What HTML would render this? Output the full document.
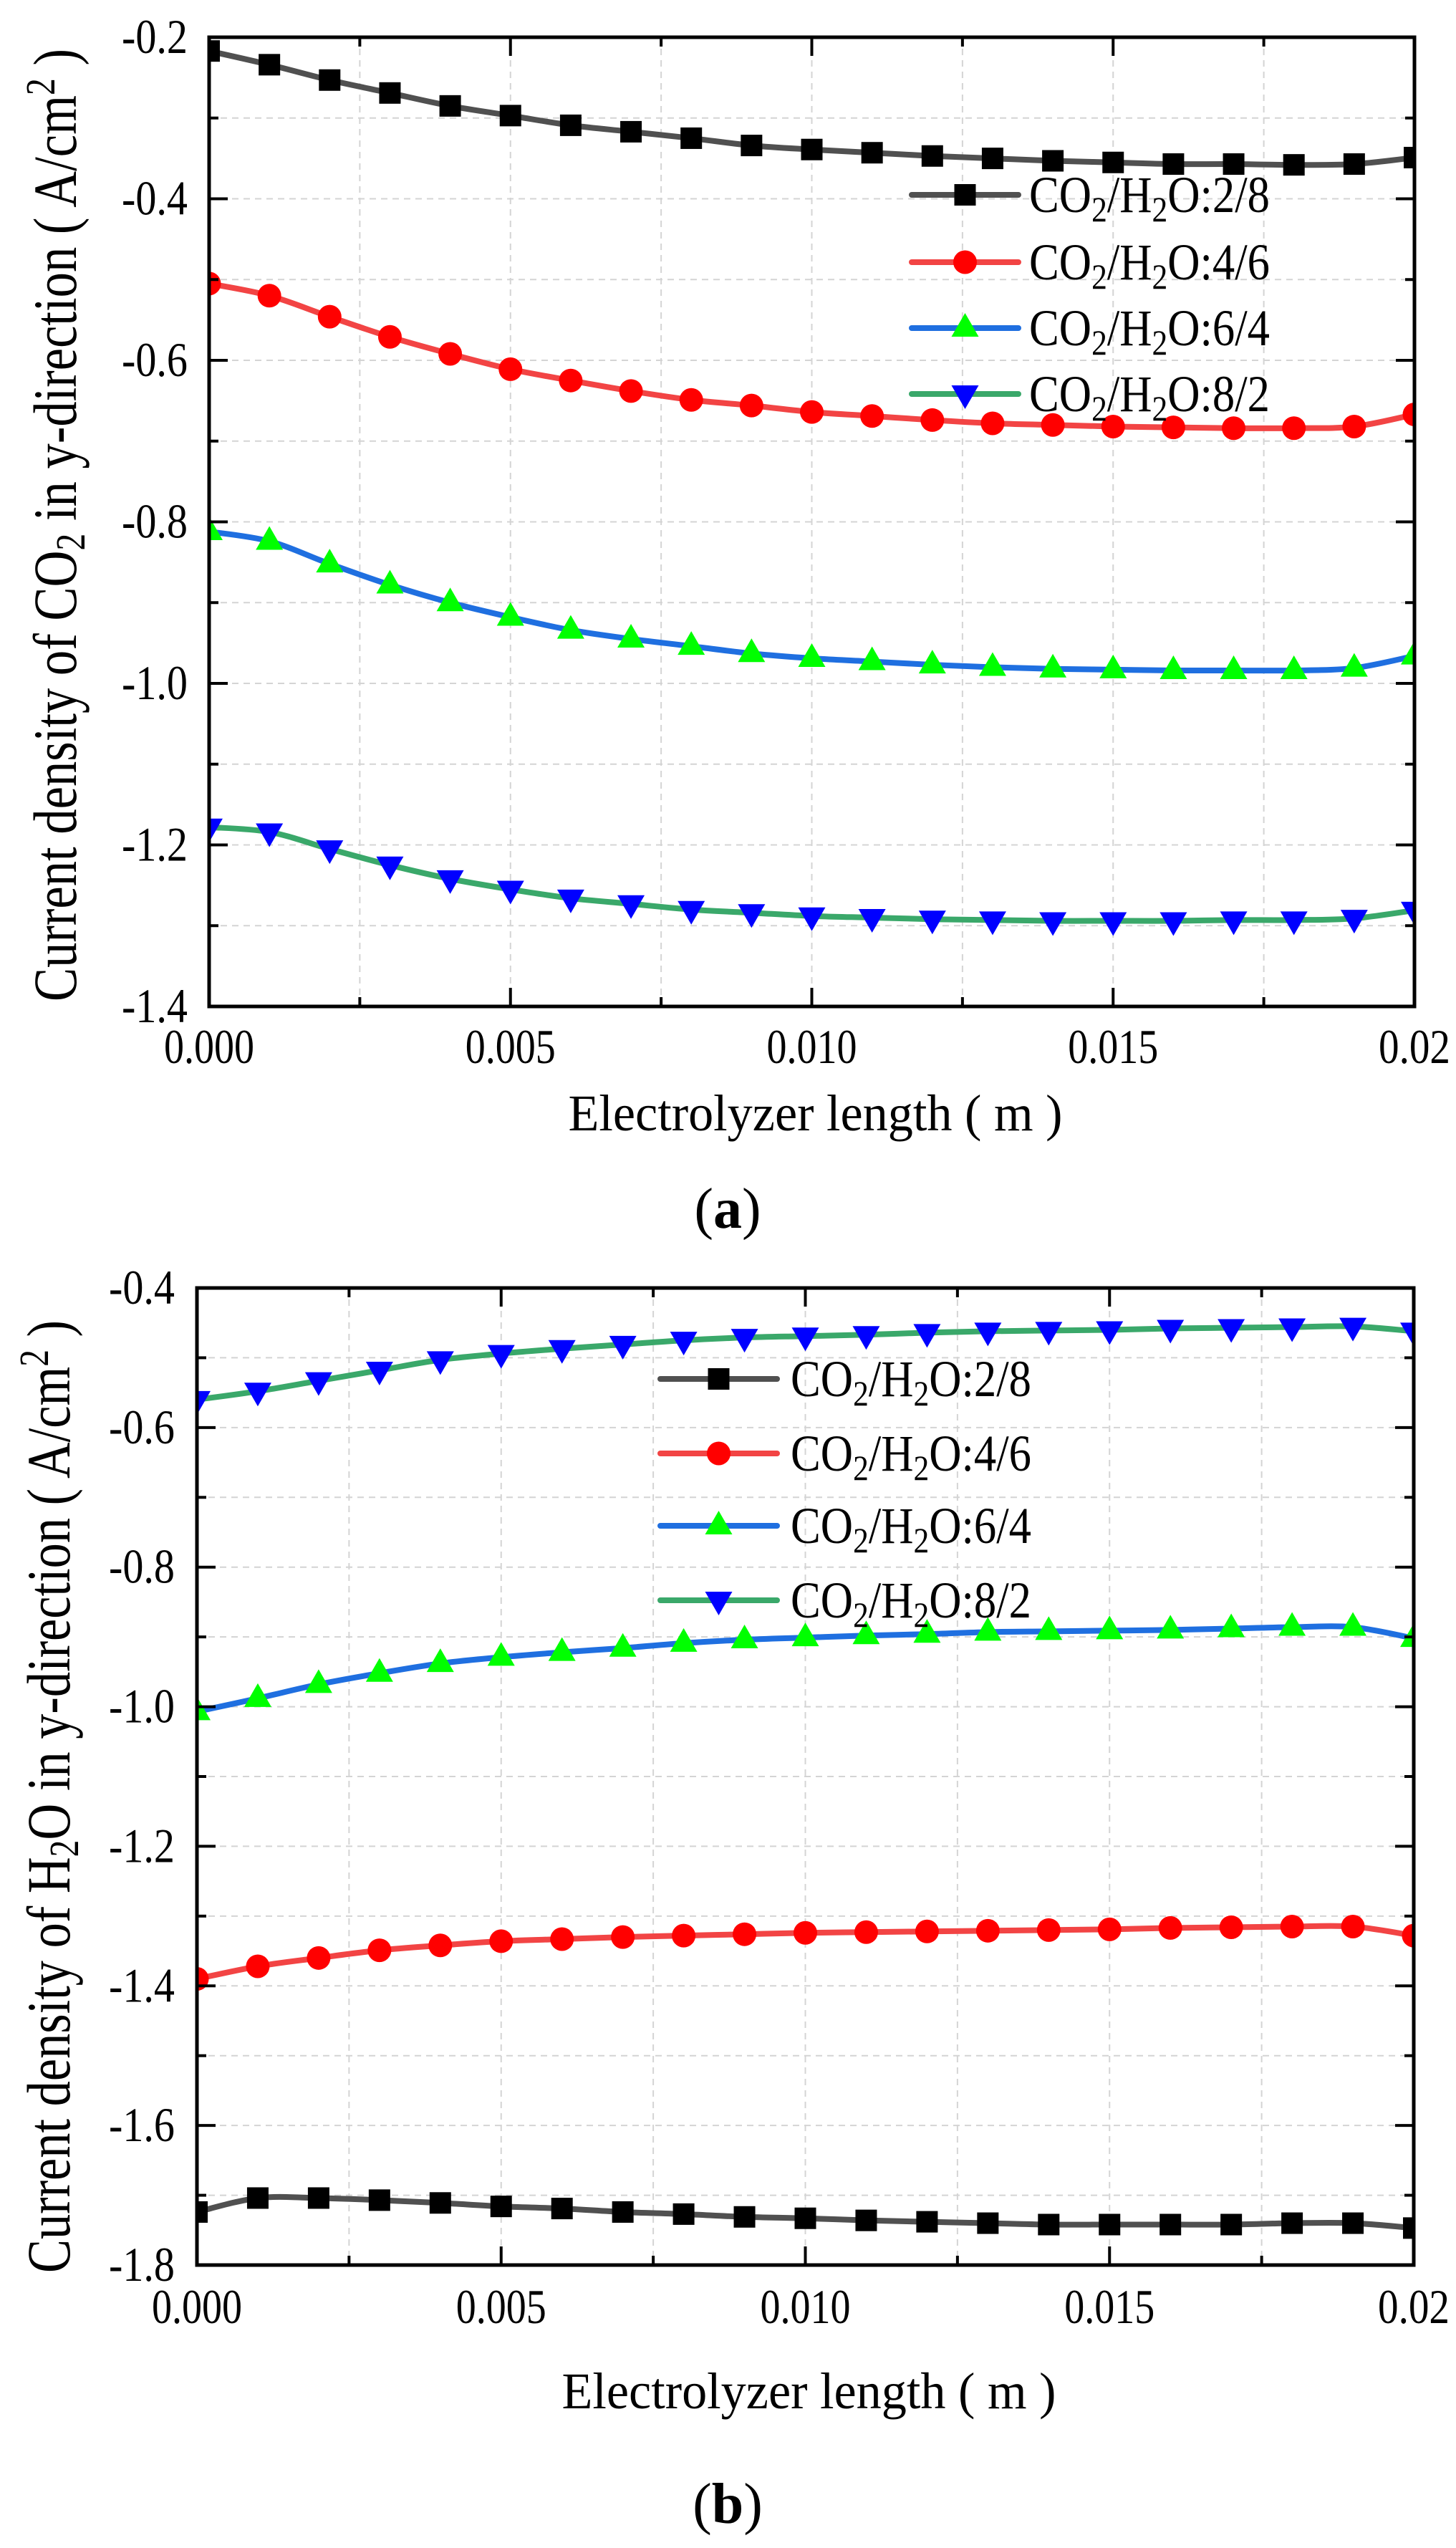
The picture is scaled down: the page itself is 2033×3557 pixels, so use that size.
<!DOCTYPE html>
<html><head><meta charset="utf-8"><style>
html,body{margin:0;padding:0;background:#fff}
svg{display:block}
text{font-family:"Liberation Serif",serif;fill:#000}
</style></head><body>
<svg id="fig" width="2033" height="3557" viewBox="0 0 2033 3557" xmlns="http://www.w3.org/2000/svg"></svg>
<script>
const xValues = [0,0.001,0.002,0.003,0.004,0.005,0.006,0.007,0.008,0.009,0.010,0.011,0.012,0.013,0.014,0.015,0.016,0.017,0.018,0.019,0.020];
const seriesNames = ["2/8","4/6","6/4","8/2"];
// chart (a): CO2
const a_2_8 = [-0.217,-0.234,-0.253,-0.269,-0.285,-0.297,-0.309,-0.317,-0.325,-0.334,-0.339,-0.343,-0.347,-0.350,-0.353,-0.355,-0.357,-0.357,-0.358,-0.357,-0.349];
const a_4_6 = [-0.505,-0.520,-0.546,-0.571,-0.592,-0.611,-0.625,-0.638,-0.649,-0.656,-0.664,-0.669,-0.674,-0.678,-0.680,-0.682,-0.683,-0.684,-0.684,-0.682,-0.667];
const a_6_4 = [-0.812,-0.824,-0.852,-0.878,-0.900,-0.918,-0.934,-0.945,-0.954,-0.963,-0.969,-0.973,-0.977,-0.980,-0.982,-0.983,-0.984,-0.984,-0.984,-0.981,-0.966];
const a_8_2 = [-1.178,-1.184,-1.205,-1.225,-1.242,-1.255,-1.266,-1.273,-1.280,-1.284,-1.288,-1.290,-1.292,-1.293,-1.294,-1.294,-1.294,-1.293,-1.293,-1.291,-1.281];
// chart (b): H2O
const b_2_8 = [-1.724,-1.704,-1.704,-1.707,-1.711,-1.716,-1.719,-1.724,-1.727,-1.731,-1.733,-1.736,-1.738,-1.740,-1.742,-1.742,-1.742,-1.742,-1.740,-1.740,-1.747];
const b_4_6 = [-1.390,-1.372,-1.360,-1.349,-1.342,-1.336,-1.333,-1.330,-1.328,-1.326,-1.324,-1.323,-1.322,-1.321,-1.320,-1.319,-1.317,-1.316,-1.315,-1.315,-1.328];
const b_6_4 = [-1.007,-0.988,-0.968,-0.952,-0.938,-0.929,-0.922,-0.916,-0.909,-0.904,-0.901,-0.898,-0.896,-0.893,-0.892,-0.891,-0.890,-0.888,-0.886,-0.886,-0.902];
const b_8_2 = [-0.560,-0.548,-0.533,-0.518,-0.503,-0.494,-0.487,-0.481,-0.475,-0.471,-0.469,-0.467,-0.464,-0.462,-0.461,-0.460,-0.458,-0.457,-0.456,-0.455,-0.462];
const xTickVals = [0,0.005,0.010,0.015,0.020];
const xTickLabels = ["0.000","0.005","0.010","0.015","0.02"];
const aYTicks = [-0.2,-0.4,-0.6,-0.8,-1.0,-1.2,-1.4];
const aYLabels = ["-0.2","-0.4","-0.6","-0.8","-1.0","-1.2","-1.4"];
const bYTicks = [-0.4,-0.6,-0.8,-1.0,-1.2,-1.4,-1.6,-1.8];
const bYLabels = ["-0.4","-0.6","-0.8","-1.0","-1.2","-1.4","-1.6","-1.8"];

const NS="http://www.w3.org/2000/svg";
const svg=document.getElementById('fig');
function mk(tag,attrs,parent){const e=document.createElementNS(NS,tag);for(const k in attrs)e.setAttribute(k,attrs[k]);(parent||svg).appendChild(e);return e;}

const styles=[
 {line:"#505050",mk:"#000000",shape:"square"},
 {line:"#f24444",mk:"#ff0000",shape:"circle"},
 {line:"#1f6fe0",mk:"#00ff00",shape:"up"},
 {line:"#3aa86a",mk:"#0000ff",shape:"down"}];

function smooth(pts){let d=`M${pts[0][0]},${pts[0][1]}`;for(let i=0;i<pts.length-1;i++){const p0=pts[i-1]||pts[i],p1=pts[i],p2=pts[i+1],p3=pts[i+2]||p2;
 const c1=[p1[0]+(p2[0]-p0[0])/6,p1[1]+(p2[1]-p0[1])/6],c2=[p2[0]-(p3[0]-p1[0])/6,p2[1]-(p3[1]-p1[1])/6];
 d+=` C${c1[0]},${c1[1]} ${c2[0]},${c2[1]} ${p2[0]},${p2[1]}`;}return d;}

function marker(g,shape,cx,cy,color){
 let e;
 if(shape==="square")e=mk('rect',{x:cx-15,y:cy-15,width:30,height:30,fill:color},g);
 else if(shape==="circle")e=mk('circle',{cx:cx,cy:cy,r:16.5,fill:color},g);
 else if(shape==="up")e=mk('polygon',{points:`${cx-19},${cy+12} ${cx+19},${cy+12} ${cx},${cy-21}`,fill:color},g);
 else e=mk('polygon',{points:`${cx-19},${cy-12} ${cx+19},${cy-12} ${cx},${cy+21}`,fill:color},g);
 return e;
}

function legendText(g,x,y,name){
 const t=mk('text',{x:x,y:y,'font-size':72,textLength:336,lengthAdjust:'spacingAndGlyphs'},g);
 t.innerHTML=`CO<tspan font-size="50" dy="13">2</tspan><tspan dy="-13">/H</tspan><tspan font-size="50" dy="13">2</tspan><tspan dy="-13">O:${name}</tspan>`;
 return t;
}

function chart(cfg){
 const {id,L,R,T,B,ymin,ymax,yTicks,yLabels,data,yLabRight,xLabY,titleY,titleX,titleLen,titleCY,ytitle,leg,panel,panelY}=cfg;
 const g=mk('g',{});  
 const sx=v=>L+(v-0)/(0.02)*(R-L);
 const sy=v=>T+(ymax-v)/(ymax-ymin)*(B-T);
 const grid=mk('g',{stroke:"#d4d4d4","stroke-width":2,"stroke-dasharray":"9,7"},g);
 
 for(let v=0.0025;v<0.02-1e-9;v+=0.0025)mk('line',{x1:sx(v),x2:sx(v),y1:T,y2:B},grid);
 for(let v=ymax-0.1;v>ymin+1e-9;v-=0.1)mk('line',{x1:L,x2:R,y1:sy(v),y2:sy(v)},grid);
 const clipId=id+'-clip';
 const cp=mk('clipPath',{id:clipId},g);mk('rect',{x:L,y:T,width:R-L,height:B-T},cp);
 const sg=mk('g',{'clip-path':`url(#${clipId})`},g);
 data.forEach((vals,si)=>{
  const st=styles[si];
  const pts=xValues.map((x,i)=>[sx(x),sy(vals[i])]);
  const path=mk('path',{d:smooth(pts),fill:"none",stroke:st.line,"stroke-width":8,"stroke-linejoin":"round"},sg);
  
  
  pts.forEach(p=>{const m=marker(sg,st.shape,p[0],p[1],st.mk);
   
   });
 });
 const fr=mk('rect',{x:L,y:T,width:R-L,height:B-T,fill:"none",stroke:"#000","stroke-width":5},g);
 
 const tk=mk('g',{stroke:"#000","stroke-width":4},g);
 for(let v=0;v<=0.02+1e-9;v+=0.0025){const maj=Math.abs((v/0.005)-Math.round(v/0.005))<1e-6;const len=maj?26:13;
  mk('line',{x1:sx(v),x2:sx(v),y1:B,y2:B-len},tk);mk('line',{x1:sx(v),x2:sx(v),y1:T,y2:T+len},tk);}
 for(let v=ymax;v>=ymin-1e-9;v-=0.1){const k=Math.round(v*10);const maj=k%2===0;const len=maj?26:13;
  mk('line',{x1:L,x2:L+len,y1:sy(v),y2:sy(v)},tk);mk('line',{x1:R,x2:R-len,y1:sy(v),y2:sy(v)},tk);}
 xTickVals.forEach((v,i)=>{const t=mk('text',{x:sx(v),y:xLabY,'font-size':68,'text-anchor':'middle',textLength:i===4?100:126,lengthAdjust:'spacingAndGlyphs'},g);t.textContent=xTickLabels[i];
  });
 yTicks.forEach((v,i)=>{const t=mk('text',{x:yLabRight,y:sy(v)+22,'font-size':68,'text-anchor':'end',textLength:92,lengthAdjust:'spacingAndGlyphs'},g);t.textContent=yLabels[i];
  });
 const xt=mk('text',{x:(L+R)/2+5,y:titleY,'font-size':72,'text-anchor':'middle',textLength:690,lengthAdjust:'spacingAndGlyphs'},g);
 xt.textContent="Electrolyzer length ( m )";
 
 const yt=mk('text',{x:0,y:0,'font-size':86,'text-anchor':'middle',textLength:titleLen,lengthAdjust:'spacingAndGlyphs',transform:`translate(${titleX},${titleCY}) rotate(-90)`},g);
 yt.innerHTML=ytitle;
 
 const lg=mk('g',{},g);
 seriesNames.forEach((n,i)=>{const y=leg.rows[i];const st=styles[i];
  const e=mk('g',{},lg);
  mk('line',{x1:leg.x1,x2:leg.x2,y1:y,y2:y,stroke:st.line,'stroke-width':8,'stroke-linecap':'round'},e);
  marker(e,st.shape,(leg.x1+leg.x2)/2,y,st.mk);
  legendText(e,leg.tx,y+24,n);});
 const pl=mk('text',{x:1016,y:panelY,'font-size':80,'text-anchor':'middle'},g);
 pl.innerHTML=`(<tspan font-weight="bold">${panel}</tspan>)`;
 
}

chart({id:'chart-a-co2',L:292,R:1975,T:52,B:1405,ymin:-1.4,ymax:-0.2,yTicks:aYTicks,yLabels:aYLabels,
 data:[a_2_8,a_4_6,a_6_4,a_8_2],yLabRight:262,xLabY:1484,titleY:1578,titleX:106,titleLen:1330,titleCY:733,
 ytitle:'Current density of CO<tspan font-size="58" dy="12">2</tspan><tspan dy="-12"> in y-direction ( A/cm</tspan><tspan font-size="58" dy="-30">2</tspan><tspan dy="30"> )</tspan>',
 leg:{x1:1273,x2:1422,tx:1437,rows:[272,366,458,550]},panel:'a',panelY:1714});

chart({id:'chart-b-h2o',L:275,R:1974,T:1798,B:3162,ymin:-1.8,ymax:-0.4,yTicks:bYTicks,yLabels:bYLabels,
 data:[b_2_8,b_4_6,b_6_4,b_8_2],yLabRight:244,xLabY:3243,titleY:3362,titleX:97,titleLen:1330,titleCY:2508,
 ytitle:'Current density of H<tspan font-size="58" dy="12">2</tspan><tspan dy="-12">O in y-direction ( A/cm</tspan><tspan font-size="58" dy="-30">2</tspan><tspan dy="30"> )</tspan>',
 leg:{x1:922,x2:1085,tx:1104,rows:[1925,2029,2130,2234]},panel:'b',panelY:3522});
</script>
</body></html>
